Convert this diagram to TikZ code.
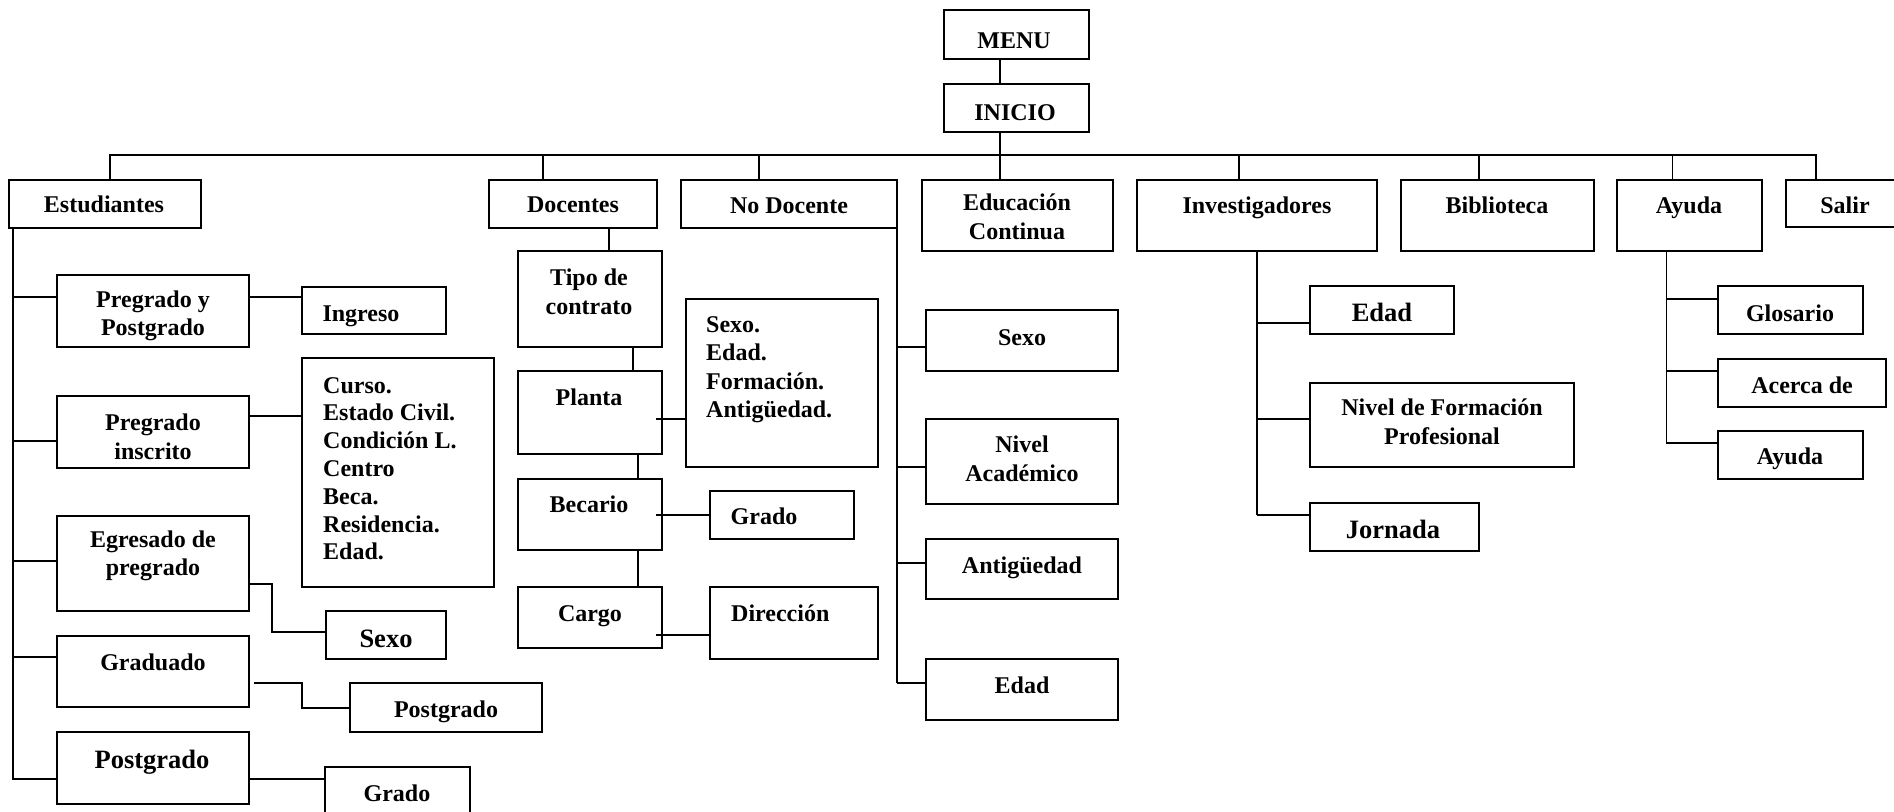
\documentclass[tikz,border=0pt]{standalone}
\usepackage{fontspec}
\setmainfont{Liberation Serif}
\usetikzlibrary{calc}
\tikzset{
  box/.style={draw, line width=1.5pt, inner sep=0pt, outer sep=0pt, anchor=north west},
  base/.style={font={\fontsize{24}{28.5}\selectfont\bfseries}, align=center, inner sep=0pt},
  txt/.style={base, text height=16pt, text depth=0pt},
  ml/.style={base},
  big/.style={txt, font={\fontsize{26.5}{31}\selectfont\bfseries}, text height=17.6pt},
  lst/.style={font={\fontsize{24}{27.8}\selectfont\bfseries}, align=left, inner sep=0pt, anchor=north west},
  conn/.style={line width=1.5pt}
}
\newcommand\bx[5]{\node[box, minimum width=#4pt, minimum height=#5pt] (#1) at (#2,#3) {};}
\begin{document}
\begin{tikzpicture}[x=1pt, y=-1pt]
\useasboundingbox (0,0) rectangle (1894,811);
% boxes
\bx{menu}{944}{10}{145}{49}
\bx{inicio}{944}{84}{145}{48}
\bx{est}{9}{180}{192}{48}
\bx{doc}{489}{180}{168}{48}
\bx{nod}{681}{180}{216}{48}
\bx{edu}{922}{180}{191}{71}
\bx{inv}{1137}{180}{240}{71}
\bx{bib}{1401}{180}{193}{71}
\bx{ayu}{1617}{180}{145}{71}
\bx{sal}{1786}{180}{130}{47}
% estudiantes
\bx{pyp}{57}{275}{192}{72}
\bx{ing}{302}{287}{144}{47}
\bx{pin}{57}{396}{192}{72}
\bx{cur}{302}{358}{192}{229}
\bx{egr}{57}{516}{192}{95}
\bx{sexe}{326}{611}{120}{48}
\bx{gra}{57}{636}{192}{71}
\bx{posc}{350}{683}{192}{49}
\bx{pos}{57}{732}{192}{72}
\bx{grae}{325}{767}{145}{60}
% docentes
\bx{tip}{518}{251}{144}{96}
\bx{pla}{518}{371}{144}{83}
\bx{sxd}{686}{299}{192}{168}
\bx{bec}{518}{479}{144}{71}
\bx{grd}{710}{491}{144}{48}
\bx{car}{518}{587}{144}{61}
\bx{dir}{710}{587}{168}{72}
% no docente
\bx{sxn}{926}{310}{192}{61}
\bx{niv}{926}{419}{192}{85}
\bx{ant}{926}{539}{192}{60}
\bx{edn}{926}{659}{192}{61}
% investigadores
\bx{edi}{1310}{286}{144}{48}
\bx{nfp}{1310}{383}{264}{84}
\bx{jor}{1310}{503}{169}{48}
% ayuda
\bx{glo}{1718}{286}{145}{48}
\bx{ace}{1718}{359}{168}{48}
\bx{ayc}{1718}{431}{145}{48}
% texts
\node[txt] (tmenu) at (1014,40) {MENU};
\node[txt] (tinicio) at (1015,112) {INICIO};
\node[txt] (test) at (104,204) {Estudiantes};
\node[txt] (tdoc) at (573,204) {Docentes};
\node[txt] (tnod) at (789,205) {No Docente};
\node[ml] (tedu) at (1017,217) {Educación\\Continua};
\node[txt] (tinv) at (1257,205) {Investigadores};
\node[txt] (tbib) at (1497,205) {Biblioteca};
\node[txt] (tayu) at (1689,205) {Ayuda};
\node[txt] (tsal) at (1845,205) {Salir};
\node[ml] (tpyp) at (153,316) {Pregrado y\\Postgrado};
\node[txt] (ting) at (361,313) {Ingreso};
\node[ml] (tpin) at (153,437) {Pregrado\\inscrito};
\node[lst] (tcur) at (323,377) {Curso.\\Estado Civil.\\Condición L.\\Centro\\Beca.\\Residencia.\\Edad.};
\node[ml] (tegr) at (153,556) {Egresado de\\pregrado};
\node[big] (tsexe) at (386,639) {Sexo};
\node[txt] (tgra) at (153,662) {Graduado};
\node[txt] (tposc) at (446,709) {Postgrado};
\node[big] (tpos) at (152,760) {Postgrado};
\node[txt] (tgrae) at (397,793) {Grado};
\node[ml] (ttip) at (589,292) {Tipo de\\contrato};
\node[txt] (tpla) at (589,397) {Planta};
\node[lst, font={\fontsize{24}{28.5}\selectfont\bfseries}] (tsxd) at (706,316) {Sexo.\\Edad.\\Formación.\\Antigüedad.};
\node[txt] (tbec) at (589,504) {Becario};
\node[txt] (tgrd) at (764,516) {Grado};
\node[txt] (tcar) at (590,613) {Cargo};
\node[txt, anchor=west] (tdir) at (731,613) {Dirección};
\node[txt] (tsxn) at (1022,337) {Sexo};
\node[ml] (tniv) at (1022,459) {Nivel\\Académico};
\node[txt] (tant) at (1022,565) {Antigüedad};
\node[txt] (tedn) at (1022,685) {Edad};
\node[big] (tedi) at (1382,313) {Edad};
\node[ml] (tnfp) at (1442,422) {Nivel de Formación\\Profesional};
\node[big] (tjor) at (1393,530) {Jornada};
\node[txt] (tglo) at (1790,313) {Glosario};
\node[txt] (tace) at (1802,385) {Acerca de};
\node[txt] (tayc) at (1790,456) {Ayuda};
% top connectors
\coordinate (busL) at (110,155);
\coordinate (busR) at (1816,155);
\draw[conn] ($(menu.south)+(-16.5,0)$) -- ($(inicio.north)+(-16.5,0)$);
\draw[conn] ($(inicio.south)+(-16.5,0)$) -- ($(edu.north)+(-17.5,0)$);
\draw[conn] (busL |- est.north) -- (busL) -- (busR) -- (busR |- sal.north);
\foreach \n/\dx in {doc/-30, nod/-30, inv/-18, bib/-18.5, ayu/-17}
  \draw[conn] ($(\n.north)+(\dx,0)$) -- ++(0,-25);
% estudiantes connectors
\draw[conn] ($(est.south west)+(4,0)$) -- ++(0,551);
\foreach \n/\dy in {pyp/22, pin/45, egr/45, gra/21, pos/47}
  \draw[conn] ($(\n.north west)+(0,\dy)$) -- ++(-45,0);
\draw[conn] ($(pyp.north east)+(0,22)$) -- ($(ing.north west)+(0,10)$);
\draw[conn] ($(pin.north east)+(0,20)$) -- ($(cur.north west)+(0,58)$);
\draw[conn] ($(egr.north east)+(0,68)$) -- ++(23,0) |- ($(sexe.north west)+(0,21)$);
\draw[conn] ($(gra.north east)+(5,47)$) -- ++(48,0) |- ($(posc.north west)+(0,25)$);
\draw[conn] ($(pos.north east)+(0,47)$) -- ($(grae.north west)+(0,12)$);
% docentes connectors
\draw[conn] ($(doc.south)+(36,0)$) -- ($(tip.north west)+(91,0)$);
\draw[conn] ($(tip.south west)+(115,0)$) -- ($(pla.north west)+(115,0)$);
\draw[conn] ($(pla.north west)+(138,48)$) -- ($(sxd.north west)+(0,120)$);
\draw[conn] ($(pla.south west)+(120,0)$) -- ($(bec.north west)+(120,0)$);
\draw[conn] ($(bec.north west)+(138,36)$) -- ($(grd.north west)+(0,24)$);
\draw[conn] ($(bec.south west)+(120,0)$) -- ($(car.north west)+(120,0)$);
\draw[conn] ($(car.north west)+(138,48)$) -- ($(dir.north west)+(0,48)$);
% no docente connectors
\draw[conn] (nod.south east) -- ++(0,455);
\foreach \n/\dy in {sxn/37, niv/48, ant/24, edn/24}
  \draw[conn] ($(\n.north west)+(0,\dy)$) -- ++(-29,0);
% investigadores connectors
\draw[conn] (inv.south) -- ++(0,264);
\foreach \n/\dy in {edi/37, nfp/36, jor/12}
  \draw[conn] ($(\n.north west)+(0,\dy)$) -- ++(-53,0);
% ayuda connectors
\draw[conn] ($(ayu.south)+(-23,0)$) -- ++(0,192);
\foreach \n/\dy in {glo/13, ace/12, ayc/12}
  \draw[conn] ($(\n.north west)+(0,\dy)$) -- ++(-52,0);
\end{tikzpicture}
\end{document}
